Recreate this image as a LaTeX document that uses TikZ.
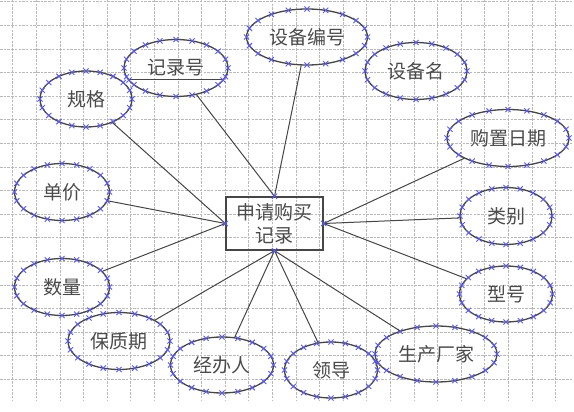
\documentclass[tikz,border=0pt]{standalone}
\usepackage{fontspec}
\newfontfamily\cjk{Noto Sans CJK SC}
\usetikzlibrary{shapes.geometric,calc}
\definecolor{gridgray}{RGB}{185,185,185}
\definecolor{edgegray}{RGB}{70,70,70}
\definecolor{textgray}{RGB}{75,75,75}
\definecolor{markblue}{RGB}{90,90,235}
\tikzset{
  attr/.style={ellipse, draw=edgegray, line width=1.3pt, inner sep=0pt,
    font=\cjk\fontsize{19}{22}\selectfont, text=textgray},
  entity/.style={rectangle, draw=edgegray, line width=1.3pt, inner sep=0pt,
    minimum width=97pt, minimum height=53pt, align=center,
    font=\cjk\fontsize{19}{23}\selectfont, text=textgray},
  conn/.style={draw=edgegray, line width=1pt},
  xm/.style={draw=markblue, line width=0.9pt},
  gridline/.style={draw=gridgray, line width=0.6pt, dash pattern=on 2.5pt off 1.2pt}
}
\newcommand\xmk[1]{\draw[xm] (#1) +(-2.6,-2.6) -- +(2.6,2.6) +(-2.6,2.6) -- +(2.6,-2.6);}
\newcommand\attrnode[6]{%
  \node[attr, minimum width=#4pt, minimum height=#5pt] (#1) at (#2,#3) {#6};
  \foreach \s in {0,18,...,342}{%
    \draw[xm] ($(#1.center)+({#4/2*cos(\s)},{#5/2*sin(\s)})$) +(-2.6,-2.6) -- +(2.6,2.6) +(-2.6,2.6) -- +(2.6,-2.6);}%
}
\begin{document}
\begin{tikzpicture}[x=1pt,y=-1pt]
\useasboundingbox[fill=white] (0,0) rectangle (574,412);
% grid
\foreach \i in {0,...,23}{\draw[gridline] ({12.7+\i*23.6},0) -- ({12.7+\i*23.6},400);}
\foreach \j in {0,...,16}{\draw[gridline] (0,{1.7+\j*23.6}) -- (574,{1.7+\j*23.6});}
% entity
\node[entity] (rec) at (274.5,223.5) {申请购买\\记录};
% attributes
\attrnode{jlh}{176}{68}{104}{57}{记录号}
\attrnode{gg}{86}{99}{92}{56}{规格}
\attrnode{dj}{62}{192}{95}{57}{单价}
\attrnode{sl}{62}{287}{95}{57}{数量}
\attrnode{bzq}{119}{341}{102}{57}{保质期}
\attrnode{jbr}{222}{365}{103}{56}{经办人}
\attrnode{ld}{331}{370}{93}{56}{领导}
\attrnode{sccj}{436}{354}{122}{56}{生产厂家}
\attrnode{xh}{506}{294}{93}{56}{型号}
\attrnode{lb}{506}{216}{92}{57}{类别}
\attrnode{gzrq}{508}{138}{122}{57}{购置日期}
\attrnode{sbm}{416}{71}{102}{57}{设备名}
\attrnode{sbbh}{307}{37}{121}{56}{设备编号}
% key underline
\draw[conn] ($(jlh.center)+(-47,12)$) coordinate (ulA) -- ($(jlh.center)+(47,12)$) coordinate (ulB);
\xmk{ulA}\xmk{ulB}
% connectors
\draw[conn] (jlh) -- (rec.north);
\draw[conn] (sbbh) -- (rec.north);
\draw[conn] (gg) -- (rec.west);
\draw[conn] (dj) -- (rec.west);
\draw[conn] (sl) -- (rec.west);
\draw[conn] (bzq) -- (rec.south);
\draw[conn] (jbr) -- (rec.south);
\draw[conn] (ld) -- (rec.south);
\draw[conn] (sccj) -- (rec.south);
\draw[conn] (gzrq) -- (rec.east);
\draw[conn] (lb) -- (rec.east);
\draw[conn] (xh) -- (rec.east);
\xmk{rec.north}\xmk{rec.south}\xmk{rec.west}\xmk{rec.east}
\end{tikzpicture}
\end{document}
